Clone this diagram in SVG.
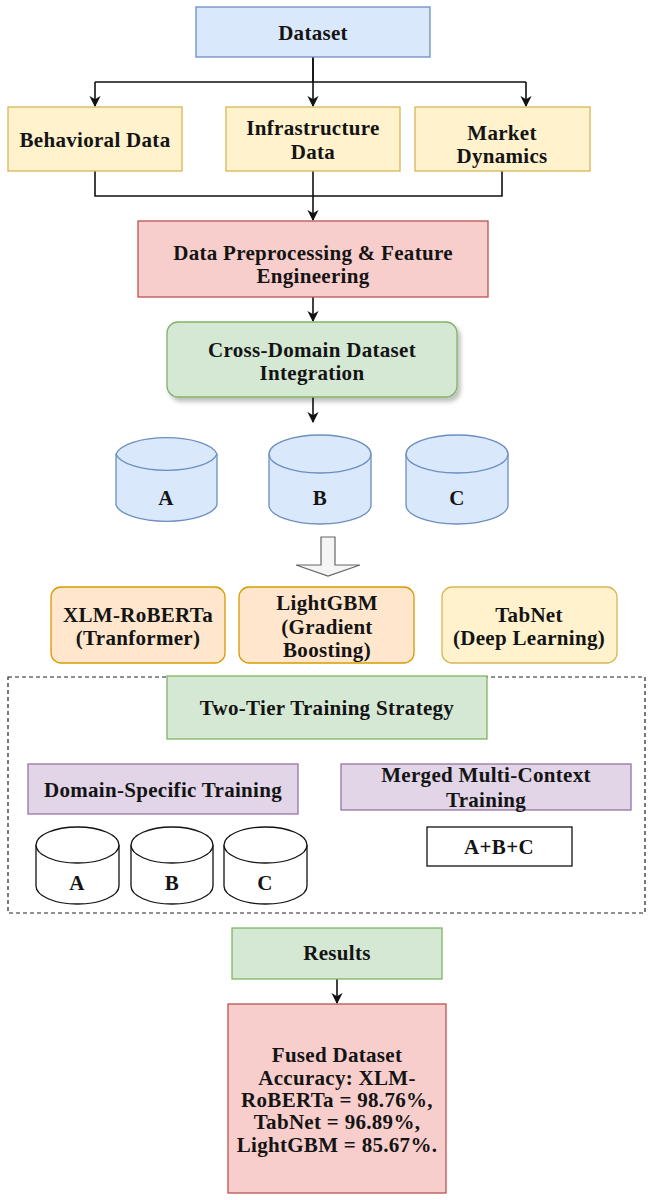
<svg xmlns="http://www.w3.org/2000/svg" width="652" height="1200" viewBox="0 0 652 1200">
<defs>
<style>
text{font-family:"Liberation Serif","Times New Roman",serif;font-weight:bold;font-size:21px;letter-spacing:0.3px;fill:#141414;text-anchor:middle}
.blue{fill:#dae8fc;stroke:#6c8ebf;stroke-width:1.3}
.yel{fill:#fff2cc;stroke:#d6b656;stroke-width:1.3}
.red{fill:#f8cecc;stroke:#b85450;stroke-width:1.3}
.grn{fill:#d5e8d4;stroke:#82b366;stroke-width:1.3}
.org{fill:#ffe6cc;stroke:#d79b00;stroke-width:1.3}
.pur{fill:#e1d5e7;stroke:#9673a6;stroke-width:1.3}
.wht{fill:#fff;stroke:#111;stroke-width:1.3}
.cyl{fill:#dae8fc;stroke:#6c8ebf;stroke-width:1.3}
.cylw{fill:#fff;stroke:#111;stroke-width:1.3}
.ln{fill:none;stroke:#111;stroke-width:1.6}
.arr{fill:none;stroke:#111;stroke-width:1.6;marker-end:url(#ah)}
</style>
<marker id="ah" viewBox="0 0 10 10" refX="9" refY="5" markerWidth="7" markerHeight="7" markerUnits="strokeWidth" orient="auto">
<path d="M0,0 L10,5 L0,10 L3,5 Z" fill="#111"/>
</marker>
<filter id="sh" x="-10%" y="-10%" width="130%" height="140%">
<feDropShadow dx="3" dy="4" stdDeviation="2" flood-color="#000" flood-opacity="0.25"/>
</filter>
</defs>
<rect width="652" height="1200" fill="#fff"/>

<g id="connectors">
<path class="ln" d="M313,57 V82 M95,82 H526"/>
<path class="arr" d="M95,82 V106"/>
<path class="arr" d="M313,57 V106"/>
<path class="arr" d="M526,82 V106"/>
<path class="ln" d="M95,171 V196 H502 V171"/>
<path class="arr" d="M313,171 V220"/>
<path class="arr" d="M313,297 V321"/>
<path class="arr" d="M313,397 V422"/>
<path d="M321,537 H335 V565 H360 L328,576 L296,565 H321 Z" fill="#f5f5f5" stroke="#666" stroke-width="1.2"/>
<path class="arr" d="M337,979 V1003"/>
</g>

<g id="dataset">
<rect class="blue" x="196" y="7" width="234" height="50"/>
<text x="313" y="40">Dataset</text>
</g>
<g id="behavioral">
<rect class="yel" x="8" y="107" width="174" height="64"/>
<text x="95" y="147">Behavioral Data</text>
</g>
<g id="infrastructure">
<rect class="yel" x="226" y="107" width="174" height="64"/>
<text x="313" y="135">Infrastructure</text>
<text x="313" y="159">Data</text>
</g>
<g id="market">
<rect class="yel" x="415" y="107" width="175" height="64"/>
<text x="502" y="140">Market</text>
<text x="502" y="163">Dynamics</text>
</g>
<g id="preprocessing">
<rect class="red" x="138" y="221" width="350" height="76"/>
<text x="313" y="260">Data Preprocessing &amp; Feature</text>
<text x="313" y="283">Engineering</text>
</g>
<g id="crossdomain">
<rect class="grn" x="167" y="322" width="290" height="75" rx="11" filter="url(#sh)"/>
<text x="312" y="357">Cross-Domain Dataset</text>
<text x="312" y="380">Integration</text>
</g>

<g id="cylA">
<path class="cyl" d="M116,454 A51,19 0 0 1 217,454 V505 A51,19 0 0 1 116,505 Z"/>
<path class="cyl" d="M116,454 A51,19 0 0 0 217,454" fill="none"/>
<text x="166" y="505">A</text>
</g>
<g id="cylB">
<path class="cyl" d="M269,454 A51,19 0 0 1 371,454 V505 A51,19 0 0 1 269,505 Z"/>
<path class="cyl" d="M269,454 A51,19 0 0 0 371,454" fill="none"/>
<text x="320" y="505">B</text>
</g>
<g id="cylC">
<path class="cyl" d="M406,454 A51,19 0 0 1 508,454 V505 A51,19 0 0 1 406,505 Z"/>
<path class="cyl" d="M406,454 A51,19 0 0 0 508,454" fill="none"/>
<text x="457" y="505">C</text>
</g>

<g id="xlm">
<rect class="org" x="51" y="587" width="174" height="76" rx="10"/>
<text x="138" y="622">XLM-RoBERTa</text>
<text x="138" y="645">(Tranformer)</text>
</g>
<g id="lightgbm">
<rect class="org" x="239" y="587" width="175" height="76" rx="10"/>
<text x="327" y="610">LightGBM</text>
<text x="327" y="634">(Gradient</text>
<text x="327" y="657">Boosting)</text>
</g>
<g id="tabnet">
<rect class="yel" x="442" y="587" width="175" height="76" rx="10"/>
<text x="529" y="622">TabNet</text>
<text x="529" y="645">(Deep Learning)</text>
</g>

<g id="training-frame">
<rect x="8" y="677" width="637" height="236" fill="none" stroke="#222" stroke-width="1.2" stroke-dasharray="4,3"/>
</g>
<g id="twotier">
<rect class="grn" x="167" y="676" width="320" height="63"/>
<text x="327" y="715">Two-Tier Training Strategy</text>
</g>
<g id="domainspecific">
<rect class="pur" x="28" y="764" width="270" height="50"/>
<text x="163" y="797">Domain-Specific Training</text>
</g>
<g id="merged">
<rect class="pur" x="341" y="764" width="290" height="46"/>
<text x="486" y="782">Merged Multi-Context</text>
<text x="486" y="807">Training</text>
</g>
<g id="wcylA">
<path class="cylw" d="M36,845 A41.5,18 0 0 1 119,845 V886 A41.5,18 0 0 1 36,886 Z"/>
<path class="cylw" d="M36,845 A41.5,18 0 0 0 119,845" fill="none"/>
<text x="77" y="890">A</text>
</g>
<g id="wcylB">
<path class="cylw" d="M131,845 A41,18 0 0 1 213,845 V886 A41,18 0 0 1 131,886 Z"/>
<path class="cylw" d="M131,845 A41,18 0 0 0 213,845" fill="none"/>
<text x="172" y="890">B</text>
</g>
<g id="wcylC">
<path class="cylw" d="M224,845 A41.5,18 0 0 1 307,845 V886 A41.5,18 0 0 1 224,886 Z"/>
<path class="cylw" d="M224,845 A41.5,18 0 0 0 307,845" fill="none"/>
<text x="265" y="890">C</text>
</g>
<g id="abc">
<rect class="wht" x="427" y="827" width="145" height="39"/>
<text x="499" y="854">A+B+C</text>
</g>

<g id="results">
<rect class="grn" x="232" y="928" width="210" height="51"/>
<text x="337" y="960">Results</text>
</g>
<g id="fused">
<rect class="red" x="228" y="1004" width="218" height="189"/>
<text x="337" y="1062">Fused Dataset</text>
<text x="337" y="1085">Accuracy: XLM-</text>
<text x="337" y="1107">RoBERTa = 98.76%,</text>
<text x="337" y="1129">TabNet = 96.89%,</text>
<text x="337" y="1152">LightGBM = 85.67%.</text>
</g>
</svg>
